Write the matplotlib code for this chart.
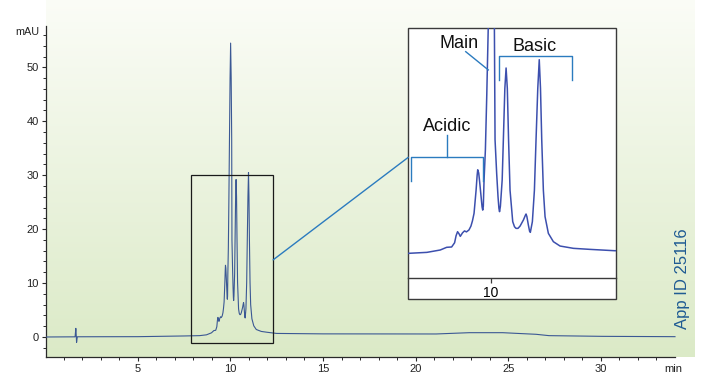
import numpy as np
import matplotlib
matplotlib.use("Agg")
import matplotlib.pyplot as plt
from matplotlib.patches import Rectangle, ConnectionPatch
from matplotlib.ticker import FixedLocator

plt.rcParams["font.family"] = ["Liberation Sans", "DejaVu Sans"]

# Chromatogram trace: retention time (min) and absorbance (mAU)
time_min = [
    0.05, 1.00, 1.62, 1.66, 1.68, 1.70, 1.74, 3.00, 5.00, 7.50,
    8.34, 8.71, 8.98, 9.11, 9.21, 9.27, 9.30, 9.33, 9.36, 9.385,
    9.43, 9.47, 9.51, 9.56, 9.60, 9.63, 9.663, 9.704, 9.725, 9.737,
    9.757, 9.775, 9.805, 9.825, 9.838, 9.850, 9.865, 9.892, 9.920, 9.953,
    9.985, 10.015, 10.045, 10.073, 10.087, 10.12, 10.147, 10.165, 10.178, 10.195,
    10.231, 10.255, 10.285, 10.310, 10.335, 10.360, 10.390, 10.444, 10.480, 10.511,
    10.550, 10.592, 10.660, 10.700, 10.713, 10.730, 10.760, 10.785, 10.800, 10.841,
    10.882, 10.915, 10.950, 10.980, 11.005, 11.030, 11.063, 11.097, 11.164, 11.265,
    11.40, 11.67, 12.00, 12.50, 15.00, 21.10, 22.90, 24.70, 25.40, 26.50,
    27.20, 30.10, 34.00,
]
signal_mau = [
    0.00, 0.02, 0.03, 1.60, 0.40, -1.00, 0.04, 0.05, 0.06, 0.19,
    0.25, 0.40, 0.77, 1.19, 1.24, 1.90, 3.00, 3.63, 3.30, 2.90,
    3.45, 3.75, 3.60, 3.90, 4.50, 5.30, 6.50, 10.10, 12.40, 13.30,
    12.80, 11.50, 9.10, 7.50, 7.00, 7.60, 11.70, 16.40, 25.00, 36.70,
    48.00, 54.50, 48.00, 36.70, 18.00, 12.70, 9.10, 7.30, 6.76, 7.60,
    11.70, 18.00, 26.00, 29.20, 26.00, 18.00, 10.10, 5.20, 4.40, 4.15,
    4.15, 4.50, 5.46, 6.20, 6.39, 6.00, 4.67, 3.70, 3.53, 5.20,
    10.10, 18.00, 26.00, 30.50, 26.00, 18.00, 10.10, 5.98, 3.37, 2.07,
    1.39, 1.03, 0.87, 0.66, 0.58, 0.56, 0.80, 0.80, 0.68, 0.50,
    0.25, 0.12, 0.06,
]

x_major = [5, 10, 15, 20, 25, 30]
x_minor = list(range(1, 34))
y_major = [0, 10, 20, 30, 40, 50]
y_minor = list(range(-2, 57, 2))
inset_ticks = [10]

W, H = 704, 376
fig = plt.figure(figsize=(W / 100, H / 100), dpi=100)
fig.patch.set_facecolor("white")


def fbox(x0, y0, x1, y1):
    """Pixel box measured from the top-left corner -> figure-fraction rect."""
    return [x0 / W, 1 - y1 / H, (x1 - x0) / W, (y1 - y0) / H]


# ---------------- main chromatogram ----------------
ax = fig.add_axes(fbox(46, 0, 695, 357))
top = np.array([0.984, 0.990, 0.968])
bottom = np.array([0.860, 0.918, 0.780])
f = np.linspace(0, 1, 256)[:, None]
grad = (top * (1 - f) + bottom * f)[:, None, :]
ax.imshow(grad, extent=[0, 1, 0, 1], transform=ax.transAxes,
          aspect="auto", zorder=0, interpolation="bilinear")
ax.set_facecolor("none")

ax.plot(time_min, signal_mau, color="#3b5894", lw=0.8, zorder=3)

ax.set_xlim(0.05, 35.08)
ax.set_ylim(-3.71, 62.49)

for s in ("top", "right"):
    ax.spines[s].set_visible(False)
for s in ("left", "bottom"):
    ax.spines[s].set_color("#2a2a2a")
    ax.spines[s].set_linewidth(0.9)
ax.spines["left"].set_bounds(-3.71, 57.6)
ax.spines["bottom"].set_bounds(0.05, 34.0)

ax.set_xticks(x_major)
ax.xaxis.set_minor_locator(FixedLocator(x_minor))
ax.set_yticks(y_major)
ax.yaxis.set_minor_locator(FixedLocator(y_minor))
ax.tick_params(axis="both", which="major", length=2.9, width=0.8,
               color="#2a2a2a", labelsize=8, labelcolor="#222222")
ax.tick_params(axis="x", which="major", pad=2.4)
ax.tick_params(axis="y", which="major", pad=2.2)
ax.tick_params(axis="both", which="minor", length=2.2, width=0.7, color="#2a2a2a")

ax.annotate("mAU", xy=(0, 56.6), xycoords=ax.get_yaxis_transform(),
            xytext=(-4.4, 0), textcoords="offset points",
            ha="right", va="center", fontsize=7.8, color="#222222")
ax.annotate("min", xy=(33.9, 0), xycoords=ax.get_xaxis_transform(),
            xytext=(0, -5.4), textcoords="offset points",
            ha="center", va="top", fontsize=8, color="#222222")

ax.add_patch(Rectangle((7.86, -1.11), 12.31 - 7.86, 30.04 + 1.11,
                       fill=False, ec="#1a1a1a", lw=0.9, zorder=4))

# ---------------- zoomed inset ----------------
fig.add_artist(Rectangle((408.3 / W, 1 - 299 / H), (616 - 408.3) / W,
                         (299 - 28.3) / H, transform=fig.transFigure,
                         fc="white", ec="#3a3a3a", lw=1.0, zorder=1.5))

axin = fig.add_axes(fbox(408.3, 28.3, 616, 278.3))
axin.set_zorder(2)
axin.patch.set_alpha(0)
axin.plot(time_min, signal_mau, color="#3c4fae", lw=1.1)
axin.set_xlim(8.335, 12.53)
axin.set_ylim(-3.65, 35.4)
for s in ("top", "left", "right"):
    axin.spines[s].set_visible(False)
axin.spines["bottom"].set_color("#3a3a3a")
axin.spines["bottom"].set_linewidth(1.0)
axin.set_yticks([])
axin.set_xticks(inset_ticks)
axin.tick_params(axis="x", length=3.6, width=0.9, color="#3a3a3a",
                 pad=2.2, labelsize=10)

ann = "#2b7bbf"
label_kw = dict(ha="center", va="baseline", fontsize=13, color="#111111")
axin.text(9.36, 32.3, "Main", **label_kw)
axin.plot([9.495, 9.95], [31.75, 28.9], color=ann, lw=1.0, clip_on=False)

axin.text(10.895, 31.9, "Basic", **label_kw)
axin.plot([10.174, 10.174, 11.636, 11.636], [27.33, 31.08, 31.08, 27.33],
          color=ann, lw=1.0)

axin.text(9.111, 19.36, "Acidic", **label_kw)
axin.plot([9.117, 9.117], [18.74, 15.25], color=ann, lw=1.0)
axin.plot([8.384, 8.384, 9.85, 9.85], [11.55, 15.25, 15.25, 11.55],
          color=ann, lw=1.0)

con = ConnectionPatch(xyA=(12.31, 14.3), coordsA=ax.transData,
                      xyB=(8.335, 15.25), coordsB=axin.transData,
                      color=ann, lw=1.0)
con.set_zorder(1.6)
fig.add_artist(con)

fig.text(683 / W, 1 - 279 / H, "App ID 25116", rotation=90,
         ha="center", va="center", fontsize=12, color="#1f5b93")

fig.savefig("out.png", dpi=100)
